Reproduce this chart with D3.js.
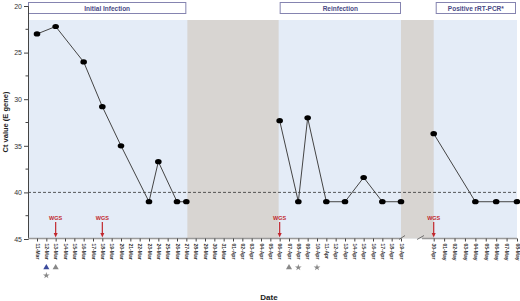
<!DOCTYPE html>
<html><head><meta charset="utf-8">
<script src="https://cdn.jsdelivr.net/npm/d3@7"></script>
<style>body{margin:0;background:#fff}svg{display:block;font-family:"Liberation Sans",Arial,sans-serif}</style>
</head><body><svg id="c" width="520" height="301"></svg>
<script>
// ---- data ----
const datesA = ["11-Mar","12-Mar","13-Mar","14-Mar","15-Mar","16-Mar","17-Mar","18-Mar","19-Mar","20-Mar","21-Mar","22-Mar","23-Mar","24-Mar","25-Mar","26-Mar","27-Mar","28-Mar","29-Mar","30-Mar","31-Mar","01-Apr","02-Apr","03-Apr","04-Apr","05-Apr","06-Apr","07-Apr","08-Apr","09-Apr","10-Apr","11-Apr","12-Apr","13-Apr","14-Apr","15-Apr","16-Apr","17-Apr","18-Apr","19-Apr"];
const datesB = ["30-Apr","01-May","02-May","03-May","04-May","05-May","06-May","07-May","08-May"];
const initialDates = ["11-Mar","13-Mar","16-Mar","18-Mar","20-Mar","23-Mar","24-Mar","26-Mar","27-Mar"];
const initialCt    = [23.0, 22.2, 26.0, 30.8, 35.0, 41, 36.7, 41, 41];
const reinfDates   = ["06-Apr","08-Apr","09-Apr","11-Apr","13-Apr","15-Apr","17-Apr","19-Apr"];
const reinfCt      = [32.3, 41, 32.0, 41, 41, 38.4, 41, 41];
const posDates     = ["30-Apr","04-May","06-May","08-May"];
const posCt        = [33.7, 41, 41, 41];
const wgsDates     = ["13-Mar","18-Mar","06-Apr","30-Apr"];
const markerDates  = ["12-Mar","12-Mar","13-Mar","07-Apr","08-Apr","10-Apr"];
const markerTypes  = ["triBlue","star","tri","tri","star","star"];
const markerRows   = [0,1,0,0,0,0];
const phaseLabels  = ["Initial Infection","Reinfection","Positive rRT-PCR*"];
const yTicks       = [20,25,30,35,40,45];
const cutoff       = 40;

// ---- scales ----
const svg = d3.select("#c");
const xA = d3.scalePoint().domain(datesA).range([37, 401]);
const xB = d3.scalePoint().domain(datesB).range([433.7, 517]);
const x = d => datesA.includes(d) ? xA(d) : xB(d);
const y = d3.scaleLinear().domain([20,45]).range([6,239]);
const pLeft = 28, pRight = 517, pTop = 20, pBottom = 238.5;

// backgrounds
svg.append("rect").attr("x",pLeft).attr("y",pTop).attr("width",pRight-pLeft).attr("height",pBottom-pTop).attr("fill","#e4ecf7");
svg.append("rect").attr("x",x("27-Mar")+1).attr("y",pTop).attr("width",x("06-Apr")-x("27-Mar")-2).attr("height",pBottom-pTop).attr("fill","#d8d5d2");
svg.append("rect").attr("x",x("19-Apr")).attr("y",pTop).attr("width",x("30-Apr")-x("19-Apr")).attr("height",pBottom-pTop).attr("fill","#d8d5d2");

// phase header boxes
const boxes = [[pLeft, x("27-Mar")], [x("06-Apr"), x("19-Apr")], [x("30-Apr")+2, pRight-1]];
boxes.forEach((b,i)=>{
  svg.append("rect").attr("x",b[0]+0.5).attr("y",2.5).attr("width",b[1]-b[0]-1).attr("height",11)
    .attr("fill","#fff").attr("stroke","#8584b0").attr("stroke-width",1);
  svg.append("text").attr("x",(b[0]+b[1])/2).attr("y",10.5).attr("text-anchor","middle")
    .attr("font-size",6.5).attr("font-weight","bold").attr("fill","#4a4a86").text(phaseLabels[i]);
});

// cutoff line
svg.append("line").attr("x1",pLeft).attr("x2",pRight).attr("y1",y(cutoff)).attr("y2",y(cutoff))
  .attr("stroke","#333").attr("stroke-width",0.8).attr("stroke-dasharray","3,2");

// y axis
const yAxis = d3.axisLeft(y).tickValues(yTicks).tickSize(4).tickPadding(2);
const gy = svg.append("g").attr("transform",`translate(${pLeft},0)`).call(yAxis);
gy.select(".domain").attr("stroke","#444");
gy.selectAll(".tick line").attr("stroke","#444");
gy.selectAll("text").attr("font-size",7).attr("fill","#333").attr("font-family","Liberation Sans, Arial");
const minor = d3.range(22.5,45,5);
svg.append("g").selectAll("line").data(minor).join("line")
  .attr("x1",pLeft-2.5).attr("x2",pLeft).attr("y1",d=>y(d)).attr("y2",d=>y(d)).attr("stroke","#444");

// x axis (broken)
svg.append("line").attr("x1",pLeft).attr("x2",x("19-Apr")).attr("y1",pBottom).attr("y2",pBottom).attr("stroke","#999").attr("stroke-width",1.5);
svg.append("line").attr("x1",422).attr("x2",pRight).attr("y1",pBottom).attr("y2",pBottom).attr("stroke","#999").attr("stroke-width",1.5);
[[399,236.5,405,233.5],[417,236.5,424,233.5]].forEach(s=>{
  svg.append("line").attr("x1",s[0]).attr("y1",s[1]+3).attr("x2",s[2]).attr("y2",s[3]+2).attr("stroke","#555").attr("stroke-width",0.8);
});
function drawX(scale){
  const ax = d3.axisBottom(scale).tickSize(3).tickPadding(2);
  const g = svg.append("g").attr("transform",`translate(0,${pBottom})`).call(ax);
  g.select(".domain").remove();
  g.selectAll(".tick line").attr("stroke","#444");
  g.selectAll("text").attr("font-size",5).attr("font-weight","bold").attr("fill","#333")
    .attr("font-family","Liberation Sans, Arial")
    .attr("text-anchor","start").attr("dy","0.35em")
    .attr("transform","translate(0,5) rotate(90)").attr("x",0).attr("y",0);
}
drawX(xA); drawX(xB);

// series lines and dots
const line = d3.line().x(d=>x(d[0])).y(d=>y(d[1]));
[[initialDates,initialCt],[reinfDates,reinfCt],[posDates,posCt]].forEach(([ds,vs])=>{
  const pts = ds.map((d,i)=>[d,vs[i]]);
  svg.append("path").datum(pts).attr("d",line).attr("fill","none").attr("stroke","#444").attr("stroke-width",1);
  svg.append("g").selectAll("ellipse").data(pts).join("ellipse")
    .attr("cx",d=>x(d[0])).attr("cy",d=>y(d[1])).attr("rx",3.3).attr("ry",2.6).attr("fill","#000");
});

// WGS arrows
wgsDates.forEach(d=>{
  const cx = x(d);
  svg.append("text").attr("x",cx).attr("y",219.5).attr("text-anchor","middle").attr("font-size",5.5)
    .attr("font-weight","bold").attr("fill","#c1272d").text("WGS");
  svg.append("line").attr("x1",cx).attr("x2",cx).attr("y1",222).attr("y2",234)
    .attr("stroke","#c1272d").attr("stroke-width",1.2);
  svg.append("path").attr("d",`M${cx-2},${233} L${cx+2},${233} L${cx},${237.5} Z`).attr("fill","#c1272d");
});

// markers
const tri = d3.symbol().type(d3.symbolTriangle).size(16);
const star = d3.symbol().type(d3.symbolStar).size(14);
markerDates.forEach((d,i)=>{
  const t = markerTypes[i];
  svg.append("path").attr("d", t==="star"?star():tri())
    .attr("transform",`translate(${x(d)},${267.5+markerRows[i]*8})`)
    .attr("fill", t==="triBlue" ? "#3b4a9c" : "#888");
});

// axis titles
svg.append("text").attr("x",269).attr("y",300).attr("text-anchor","middle").attr("font-size",8).attr("font-weight","bold").attr("fill","#222").text("Date");
svg.append("text").attr("transform","translate(8,122) rotate(-90)").attr("text-anchor","middle").attr("font-size",7.5).attr("font-weight","bold").attr("fill","#222").text("Ct value (E gene)");
</script></body></html>
